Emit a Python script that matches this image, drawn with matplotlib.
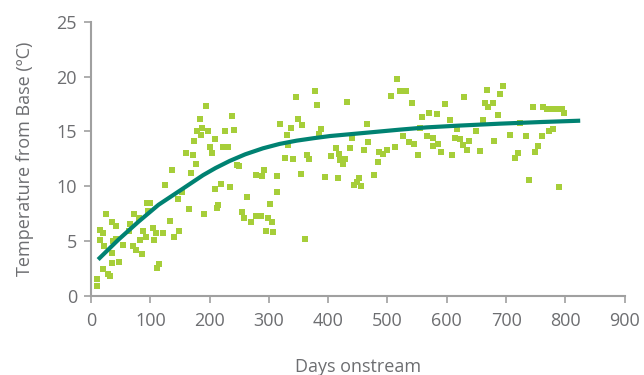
import numpy as np
import matplotlib
matplotlib.use('Agg')
import matplotlib.pyplot as plt

# measured points (days onstream, temperature rise)
days = [9.6, 10.7, 15, 20.8, 15, 22, 25, 21, 29, 32, 36, 36, 41.6, 37.7, 43, 35, 48,
        54.5, 64, 66, 72.5, 70, 76, 81.5, 85.4, 87, 82.6, 92.7, 94, 99.5, 96.7, 105,
        106, 109.6, 121, 115, 112, 125, 133, 140.5, 148, 137, 146, 153, 166, 168, 161,
        172.6, 177, 174, 179, 184, 188, 186, 194, 197, 190.5, 200.7, 204, 208.5, 209,
        214, 212, 220, 223, 231, 226, 237.8, 242, 234, 246, 250, 255, 258.6, 262.5,
        269, 279, 288, 291.7, 278, 286, 299, 302, 295, 307, 306, 313, 313, 318.7,
        361.4, 353.6, 327.2, 340, 364.8, 368, 332.8, 330, 338, 349.7, 356, 345, 377.8,
        381.7, 388.6, 385, 394.6, 416.5, 405, 413.4, 417.4, 420, 429, 424.5, 431.2,
        439.6, 437, 443.7, 451.6, 455, 448, 460, 467.7, 465, 478, 483.6, 485, 493,
        498.7, 512, 506.5, 515.5, 521, 530.8, 526, 535.5, 544, 541, 551.5, 554, 558.4,
        566, 570.6, 583, 577.3, 576, 585, 591, 596.6, 605, 609.4, 613.3, 617,
        621.8, 629.6, 628, 637.5, 634.6, 649.3, 655.8, 660.3, 668.3, 664.8, 670, 677.2,
        690.3, 695.6, 685.6, 680, 706.6, 723.5, 719.5, 715, 734.3, 739.4, 745.6, 748,
        754.5, 760, 763, 769.6, 772.5, 779.7, 779.7, 788, 794, 798.5, 789]
temps = [1.5, 0.9, 6.0, 5.7, 5.1, 4.5, 7.5, 2.4, 2.0, 1.8, 3.9, 6.7, 6.4, 5.0, 5.2, 3.0, 3.1,
         4.6, 5.9, 6.5, 7.5, 4.5, 4.2, 7.1, 3.8, 5.9, 5.1, 5.4, 8.5, 8.5, 7.7, 6.2,
         5.1, 5.7, 5.7, 2.9, 2.5, 10.1, 6.8, 5.4, 5.9, 11.5, 8.8, 9.5, 7.9, 11.2, 13.0,
         12.8, 12.0, 14.1, 15.0, 16.1, 15.3, 14.7, 17.3, 15.0, 7.5, 13.6, 13.0, 14.3, 9.7,
         8.3, 8.0, 10.2, 13.6, 13.6, 15.0, 16.4, 15.1, 9.9, 11.9, 11.8, 7.6, 7.1, 9.0,
         6.7, 11.0, 10.9, 11.5, 7.3, 7.3, 7.1, 8.4, 5.9, 5.8, 6.7, 10.9, 9.5, 15.7,
         5.2, 11.1, 12.6, 12.5, 12.8, 12.5, 13.75, 14.7, 15.3, 16.1, 15.6, 18.1, 18.7,
         17.4, 15.2, 14.8, 10.8, 10.7, 12.75, 13.5, 12.9, 12.4, 12.5, 12.0, 17.7,
         14.4, 13.5, 10.1, 10.7, 10.0, 10.4, 13.3, 14.0, 15.7, 11.0, 12.2, 13.1, 12.9,
         13.3, 13.6, 18.2, 19.8, 18.7, 18.7, 14.6, 14.0, 13.8, 17.55, 12.8, 15.3, 16.3,
         14.6, 16.7, 16.6, 14.4, 13.7, 13.8, 13.1, 17.5, 16.0, 12.8, 14.4, 15.2,
         14.3, 18.1, 13.75, 14.1, 13.3, 15.0, 13.25, 16.0, 18.8, 17.6, 17.2, 17.6,
         18.4, 19.1, 16.5, 14.1, 14.7, 15.8, 13.05, 12.55, 14.6, 10.6, 17.25, 13.1,
         13.7, 14.6, 17.25, 17.05, 15.05, 15.2, 17.0, 17.0, 17.0, 16.7, 9.95]

# fitted trend
fit_days = [12, 46, 80, 114, 153, 189, 210, 234, 260, 290, 318, 347, 375, 403, 470,
            520, 566, 620, 690, 760, 825]
fit_temps = [3.3, 5.1, 6.75, 8.3, 9.7, 11.0, 11.65, 12.3, 12.9, 13.45, 13.85, 14.15,
             14.37, 14.57, 14.9, 15.15, 15.36, 15.52, 15.7, 15.85, 15.97]

plt.rcParams['font.family'] = ['Open Sans', 'DejaVu Sans']
grey = '#6d6e71'
axis_grey = '#a0a0a0'

fig = plt.figure(figsize=(6.44, 3.75), dpi=100)
ax = fig.add_axes([0.1413, 0.2115, 0.8287, 0.7305])

ax.scatter(days, temps, marker='s', s=25, color='#a6ce39', linewidths=0, zorder=2)
ax.plot(fit_days, fit_temps, color='#008272', lw=3, solid_capstyle='butt', zorder=3)

ax.set_xlim(0, 900)
ax.set_ylim(0, 25)
ax.set_xticks(range(0, 901, 100))
ax.set_yticks(range(0, 26, 5))

for s in ['top', 'right']:
    ax.spines[s].set_visible(False)
for s in ['left', 'bottom']:
    ax.spines[s].set_color(axis_grey)
    ax.spines[s].set_linewidth(1.5)

ax.tick_params(axis='both', colors=axis_grey, width=1.2, length=5,
               labelsize=13, labelcolor=grey, pad=5)
ax.tick_params(axis='x', pad=7)

ax.set_xlabel('Days onstream', fontsize=13, color=grey, labelpad=20)
ax.set_ylabel('Temperature from Base (ºC)', fontsize=13, color=grey, labelpad=16)

fig.savefig('out.png', dpi=100)
